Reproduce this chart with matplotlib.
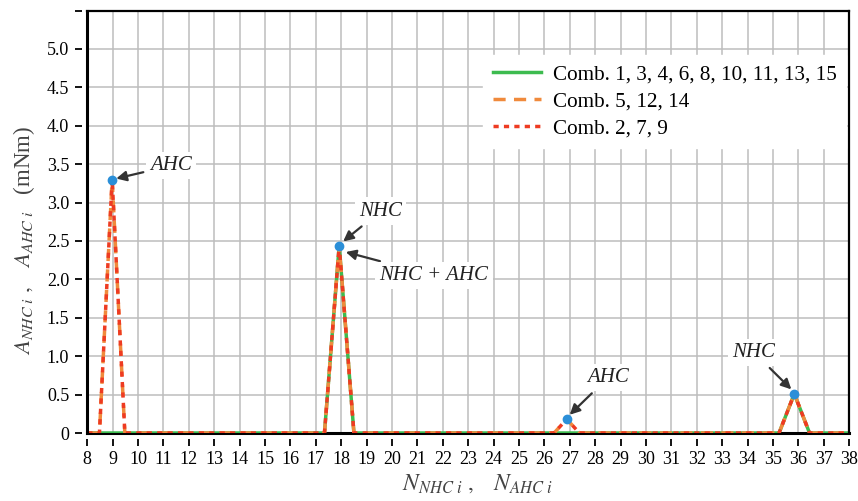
import matplotlib
matplotlib.use("Agg")
import matplotlib.pyplot as plt
from matplotlib.ticker import FuncFormatter

plt.rcParams['font.family'] = ['Liberation Serif', 'DejaVu Serif']
plt.rcParams['mathtext.fontset'] = 'stix'

# values
x_green = [8, 17.34, 17.92, 18.5, 35.24, 35.84, 36.44, 38]
y_green = [0, 0, 2.44, 0, 0, 0.51, 0, 0]

x_orange = [8, 8.48, 8.98, 9.48, 17.34, 17.92, 18.5, 26.38, 26.88, 27.38, 35.24, 35.84, 36.44, 38]
y_orange = [0, 0, 3.3, 0, 0, 2.44, 0, 0, 0.18, 0, 0, 0.51, 0, 0]

x_red = [8, 8.48, 8.98, 9.48, 17.34, 17.92, 18.5, 26.38, 26.88, 27.38, 35.24, 35.84, 36.44, 38]
y_red = [0, 0, 3.3, 0, 0, 2.44, 0, 0, 0.18, 0, 0, 0.51, 0, 0]

peak_x = [8.98, 17.92, 26.88, 35.84]
peak_y = [3.3, 2.44, 0.18, 0.51]

labels = ['Comb. 1, 3, 4, 6, 8, 10, 11, 13, 15', 'Comb. 5, 12, 14', 'Comb. 2, 7, 9']

fig = plt.figure(figsize=(8.58, 5.01), dpi=100)
ax = fig.add_axes([0.1017, 0.1357, 0.8880, 0.8433])

ax.plot(x_green, y_green, color='#3dbb4f', lw=2.5, label=labels[0])
ax.plot(x_orange, y_orange, color='#f08a3c', lw=2.5, dashes=(3.5, 2.4), label=labels[1])
ax.plot(x_red, y_red, color='#ee3b22', lw=2.5, dashes=(1.5, 1.5), label=labels[2])
ax.plot(peak_x, peak_y, 'o', color='#2b8fd8', ms=6, zorder=5)

ax.set_xlim(8, 38)
ax.set_ylim(0, 5.5)
ax.set_xticks(range(8, 39))
ax.set_yticks([i * 0.5 for i in range(12)])
ax.yaxis.set_major_formatter(FuncFormatter(
    lambda v, p: '0' if v == 0 else ('' if v > 5.2 else '%.1f' % v)))

ax.grid(True, color='#bdbdbd', lw=1.1)
ax.set_axisbelow(True)

# ticks sit a few pixels away from the axis lines
for s in ['left', 'bottom']:
    ax.spines[s].set_position(('outward', 4))
    ax.spines[s].set_visible(False)
for s in ['top', 'right']:
    ax.spines[s].set_linewidth(1.6)
ax.axhline(0, color='k', lw=2.2, clip_on=False, zorder=1)
ax.axvline(8, color='k', lw=2.2, clip_on=False, zorder=6)

ax.tick_params(axis='both', direction='out', length=5, width=1.3, color='k',
               labelsize=13, pad=4)

ax.set_ylabel(r'$A_{NHC\ i}\ ,\ \ \ A_{AHC\ i}$   (mNm)', fontsize=16.5, color='#444444')
ax.set_xlabel(r'$N_{NHC\ i}\ ,\ \ \ N_{AHC\ i}$', fontsize=17, color='#444444')
ax.yaxis.set_label_coords(-0.066, 0.455)
ax.xaxis.set_label_coords(0.512, -0.094)

box = dict(boxstyle='square,pad=0.2', fc='white', ec='none')
arr = dict(arrowstyle='-|>', color='#333333', lw=1.6, shrinkA=2, shrinkB=3, mutation_scale=15)
ax.annotate('AHC', xy=(8.98, 3.3), xytext=(11.3, 3.48), fontsize=15, fontstyle='italic',
            ha='center', va='center', bbox=box, arrowprops=arr, color='#222222')
ax.annotate('NHC', xy=(17.95, 2.46), xytext=(19.55, 2.89), fontsize=15, fontstyle='italic',
            ha='center', va='center', bbox=box, arrowprops=arr, color='#222222')
ax.annotate('NHC + AHC', xy=(18.02, 2.37), xytext=(21.65, 2.05), fontsize=15, fontstyle='italic',
            ha='center', va='center', bbox=box, arrowprops=arr, color='#222222')
ax.annotate('AHC', xy=(26.88, 0.2), xytext=(28.5, 0.72), fontsize=15, fontstyle='italic',
            ha='center', va='center', bbox=box, arrowprops=arr, color='#222222')
ax.annotate('NHC', xy=(35.84, 0.53), xytext=(34.25, 1.05), fontsize=15, fontstyle='italic',
            ha='center', va='center', bbox=box, arrowprops=arr, color='#222222')

leg = ax.legend(loc='upper right', fontsize=15.2, frameon=True, fancybox=False,
                framealpha=1, edgecolor='white', borderaxespad=0.0, borderpad=0.45,
                handlelength=2.3, handletextpad=0.55, labelspacing=0.35,
                bbox_to_anchor=(0.996, 0.895))

fig.savefig('out.png', dpi=100)
